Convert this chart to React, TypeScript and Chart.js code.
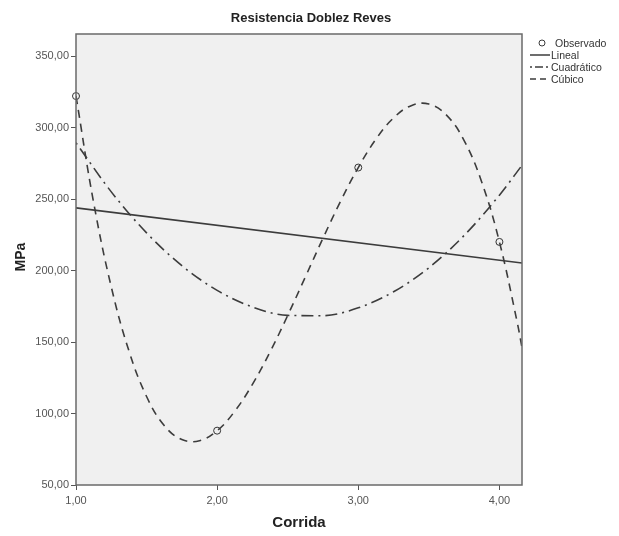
import React, { useEffect, useRef } from "react";
import { Chart, registerables } from "chart.js";

Chart.register(...registerables);

// Observed data
const obsX = [1, 2, 3, 4];
const obsY = [322, 88, 272, 220];

// Fitted curves
const linX = [1, 4.16];
const linY = [243.8, 205.2];

const quadX = [1, 1.25, 1.5, 1.75, 2, 2.25, 2.5, 2.75, 3, 3.25, 3.5, 3.75, 4, 4.16];
const quadY = [289.3, 255.0, 226.3, 203.4, 186.1, 174.5, 168.6, 168.4, 173.9, 185.1, 201.9, 224.5, 252.7, 273.6];

const cubX = [1, 1.125, 1.25, 1.375, 1.5, 1.625, 1.75, 1.875, 2, 2.125, 2.25, 2.375, 2.5, 2.625, 2.75, 2.875, 3, 3.125, 3.25, 3.375, 3.5, 3.625, 3.75, 3.875, 4, 4.125, 4.16];
const cubY = [322, 247.5, 188.5, 143.8, 111.9, 91.6, 81.8, 81.0, 88, 101.6, 120.4, 143.1, 168.6, 195.5, 222.6, 248.5, 272, 291.8, 306.7, 315.3, 316.4, 308.7, 290.9, 261.8, 220, 164.3, 146.1];

const xTicks = [1, 2, 3, 4];
const yTicks = [50, 100, 150, 200, 250, 300, 350];

const title = "Resistencia Doblez Reves";
const xTitle = "Corrida";
const yTitle = "MPa";
const legendLabels = ["Observado", "Lineal", "Cuadrático", "Cúbico"];

const LINE = "#3c3c3c";
const FONT = "'Liberation Sans', Arial, sans-serif";

const fmt = (v: number) => v.toFixed(2).replace(".", ",");

function toPts(xs: number[], ys: number[]) {
  return xs.map((x, i) => ({ x, y: ys[i] }));
}

export default function App() {
  const ref = useRef<HTMLCanvasElement | null>(null);

  useEffect(() => {
    document.body.style.margin = "0";
    const canvas = ref.current;
    if (!canvas) return;

    const decor = {
      id: "decor",
      beforeDraw(chart: any) {
        const { ctx, chartArea: a } = chart;
        ctx.save();
        ctx.fillStyle = "#f0f0f0";
        ctx.fillRect(a.left, a.top, a.right - a.left, a.bottom - a.top);
        ctx.restore();
      },
      afterDraw(chart: any) {
        const { ctx, chartArea: a } = chart;
        ctx.save();
        ctx.strokeStyle = "#6a6a6a";
        ctx.lineWidth = 1.5;
        ctx.strokeRect(a.left, a.top, a.right - a.left, a.bottom - a.top);

        ctx.fillStyle = "#222";
        ctx.font = `bold 13px ${FONT}`;
        ctx.textAlign = "center";
        ctx.textBaseline = "middle";
        ctx.fillText(title, 311, 18);

        ctx.font = `bold 15px ${FONT}`;
        ctx.fillText(xTitle, (a.left + a.right) / 2, 523);
        ctx.save();
        ctx.font = `bold 14px ${FONT}`;
        ctx.translate(21, 257);
        ctx.rotate(-Math.PI / 2);
        ctx.fillText(yTitle, 0, 0);
        ctx.restore();

        // legend
        const lx = 530;
        const ly = [43, 55, 67, 79];
        ctx.font = `10.5px ${FONT}`;
        ctx.textAlign = "left";
        ctx.fillStyle = "#333";
        ctx.strokeStyle = LINE;
        // observed
        ctx.lineWidth = 1;
        ctx.setLineDash([]);
        ctx.beginPath();
        ctx.arc(lx + 12, ly[0], 3, 0, Math.PI * 2);
        ctx.stroke();
        ctx.fillText(legendLabels[0], lx + 25, ly[0] + 1);
        const dashes = [[], [2, 3, 8, 3], [6, 4]];
        for (let i = 1; i < 4; i++) {
          ctx.lineWidth = 1.5;
          ctx.setLineDash(dashes[i - 1]);
          ctx.beginPath();
          ctx.moveTo(lx, ly[i]);
          ctx.lineTo(lx + 20, ly[i]);
          ctx.stroke();
          ctx.fillText(legendLabels[i], lx + 21, ly[i] + 1);
        }
        ctx.restore();
      },
    };

    const chart = new Chart(canvas, {
      type: "scatter",
      data: {
        datasets: [
          {
            label: "Lineal",
            data: toPts(linX, linY),
            showLine: true,
            borderColor: LINE,
            borderWidth: 1.6,
            pointRadius: 0,
          },
          {
            label: "Cuadrático",
            data: toPts(quadX, quadY),
            showLine: true,
            borderColor: LINE,
            borderWidth: 1.6,
            borderDash: [2, 5, 12, 5],
            cubicInterpolationMode: "monotone",
            pointRadius: 0,
          },
          {
            label: "Cúbico",
            data: toPts(cubX, cubY),
            showLine: true,
            borderColor: LINE,
            borderWidth: 1.6,
            borderDash: [8, 6],
            tension: 0.4,
            pointRadius: 0,
          },
          {
            label: "Observado",
            data: toPts(obsX, obsY),
            showLine: false,
            borderColor: "#333",
            backgroundColor: "rgba(0,0,0,0)",
            borderWidth: 1,
            pointRadius: 3.5,
            clip: false as any,
          },
        ],
      },
      options: {
        animation: false,
        responsive: false,
        maintainAspectRatio: false,
        layout: { padding: { top: 34, right: 97, left: 0, bottom: 0 } },
        plugins: {
          legend: { display: false },
          tooltip: { enabled: false },
          title: { display: false },
        },
        scales: {
          x: {
            type: "linear",
            min: 1,
            max: 4.16,
            afterFit: (s: any) => {
              s.height = 51;
            },
            afterBuildTicks: (s: any) => {
              s.ticks = xTicks.map((v) => ({ value: v }));
            },
            grid: { drawOnChartArea: false, drawTicks: true, tickLength: 5, color: "#555" },
            border: { display: false },
            ticks: {
              color: "#555",
              font: { size: 11, family: FONT },
              padding: 4,
              maxRotation: 0,
              callback: (v: any) => fmt(Number(v)),
            },
          },
          y: {
            type: "linear",
            min: 50,
            max: 365.4,
            afterFit: (s: any) => {
              s.width = 76;
            },
            afterBuildTicks: (s: any) => {
              s.ticks = yTicks.map((v) => ({ value: v }));
            },
            grid: { drawOnChartArea: false, drawTicks: true, tickLength: 5, color: "#555" },
            border: { display: false },
            ticks: {
              color: "#555",
              font: { size: 11, family: FONT },
              padding: 2,
              callback: (v: any) => fmt(Number(v)),
            },
          },
        },
      },
      plugins: [decor],
    } as any);

    return () => chart.destroy();
  }, []);

  return (
    <div style={{ width: 619, height: 536 }}>
      <canvas ref={ref} width={619} height={536} style={{ width: 619, height: 536 }} />
    </div>
  );
}
